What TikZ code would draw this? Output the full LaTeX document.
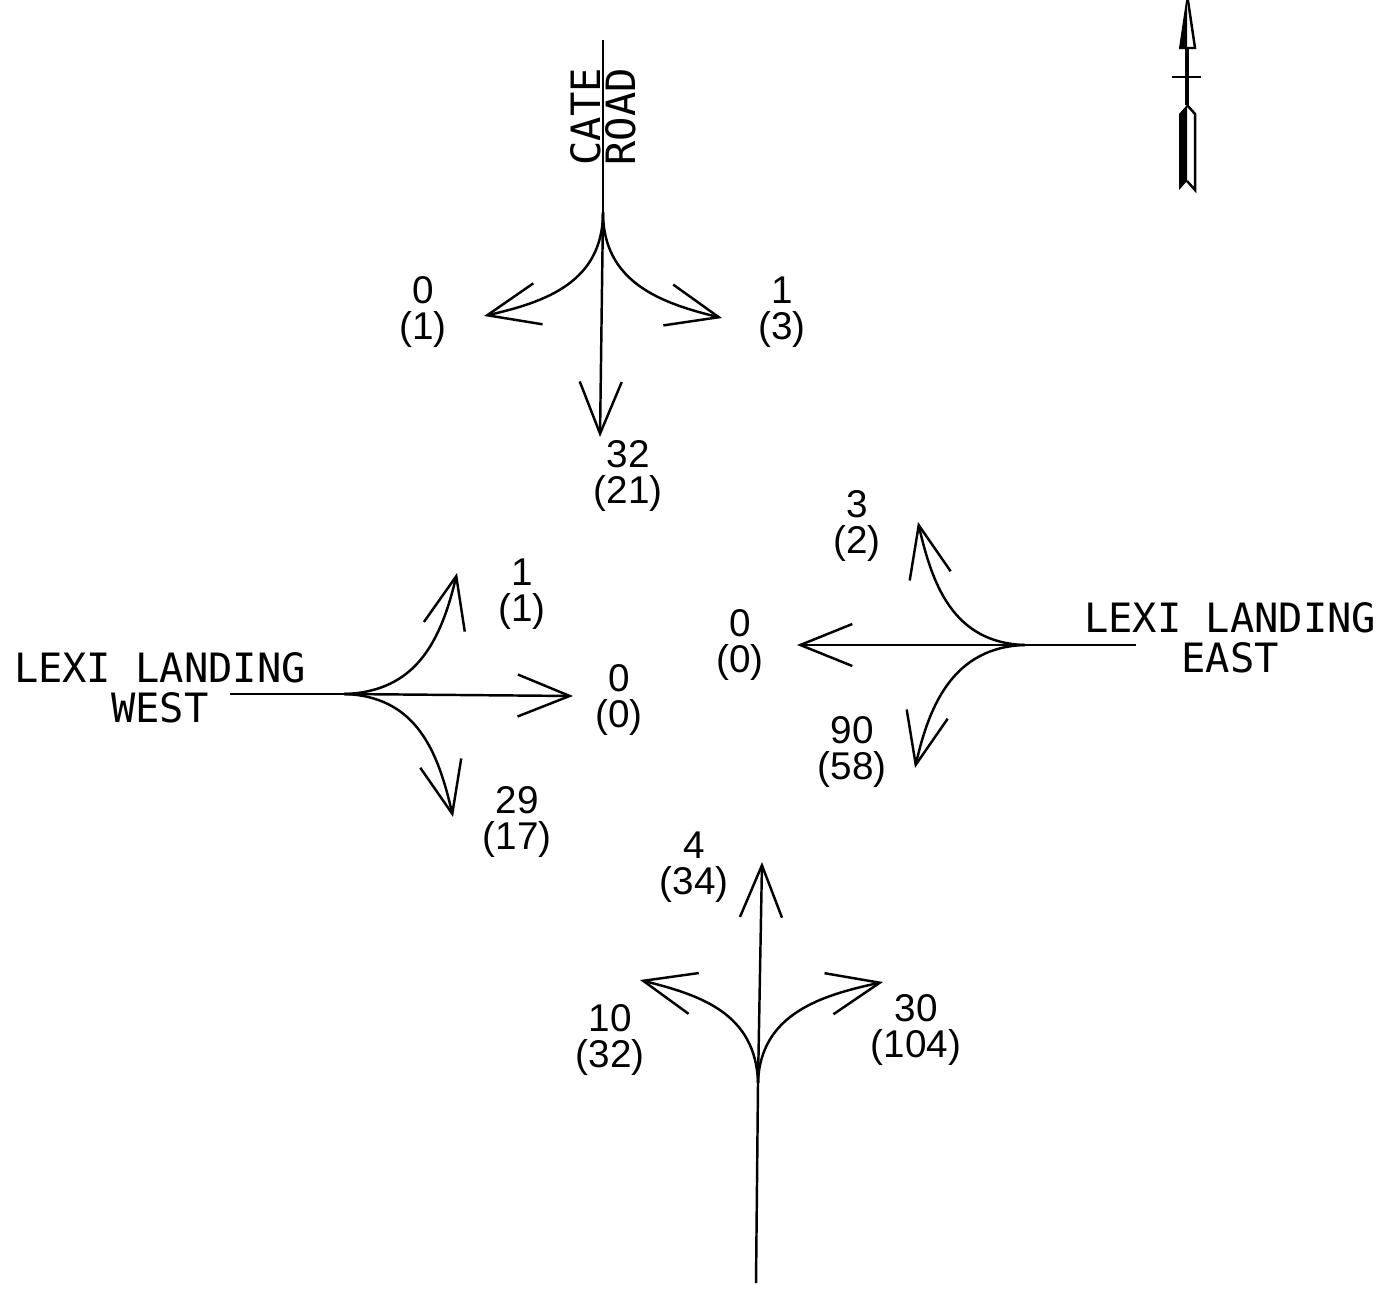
\documentclass[tikz,border=0pt]{standalone}
\usepackage{fontspec}
\newfontfamily\roadfont{DejaVu Sans Mono}
\newfontfamily\countfont{Liberation Sans}
\usetikzlibrary{arrows.meta, positioning}

\begin{document}
\begin{tikzpicture}[
  x=0.1mm, y=-0.1mm,
  every node/.style={inner sep=0pt},
  road/.style={line width=0.7pt},
  move/.style={line width=0.7pt, -{Straight Barb[length=5.2mm, width=4.2mm]}},
  vol/.style={font=\countfont\fontsize{11}{10.2}\selectfont, align=center},
  roadname/.style={font=\roadfont\fontsize{11.5}{11.4}\selectfont, align=center}
]
\useasboundingbox (0,0) rectangle (1388,1290);

%% Nodes
% Cate Road (north)
\coordinate (cateEnd) at (603,40);
\coordinate (cateO)   at (603,212);
\coordinate (cateL)   at (484,316);
\coordinate (cateT)   at (600,437);
\coordinate (cateR)   at (722,318);
% Lexi Landing West
\coordinate (westEnd) at (230,694);
\coordinate (westO)   at (344,694);
\coordinate (westL)   at (457,573);
\coordinate (westT)   at (573,696);
\coordinate (westR)   at (453,817);
% Lexi Landing East
\coordinate (eastEnd) at (1136,645);
\coordinate (eastO)   at (1025,645);
\coordinate (eastR)   at (918,522);
\coordinate (eastT)   at (797,645);
\coordinate (eastL)   at (915,768);
% south leg
\coordinate (southEnd) at (756,1283);
\coordinate (southO)   at (758,1083);
\coordinate (southL)   at (640,980);
\coordinate (southT)   at (762,862);
\coordinate (southR)   at (883,982);

\node[roadname, rotate=90, font=\roadfont\fontsize{11.5}{10}\selectfont] (cate) at (603,117) {CATE\\ROAD};
\node[roadname] (west) at (160,688) {LEXI LANDING\\WEST};
\node[roadname] (east) at (1230,638) {LEXI LANDING\\EAST};

\node[vol] (cateLv) at (423,312) {0\\(1)};
\node[vol] (cateRv) at (782,312) {1\\(3)};
\node[vol] (cateTv) at (628,476) {32\\(21)};
\node[vol] (westLv) at (522,594) {1\\(1)};
\node[vol] (westTv) at (619,700) {0\\(0)};
\node[vol] (westRv) at (517,822) {29\\(17)};
\node[vol] (eastRv) at (857,526) {3\\(2)};
\node[vol] (eastTv) at (740,645) {0\\(0)};
\node[vol] (eastLv) at (852,752) {90\\(58)};
\node[vol] (southTv) at (694,867) {4\\(34)};
\node[vol] (southLv) at (610,1040) {10\\(32)};
\node[vol] (southRv) at (916,1030) {30\\(104)};

%% Arrows
\draw[road] (cateEnd) -- (cateO);
\draw[move] (cateO) -- (cateT);
\draw[move] (cateO) .. controls +(0,70) and +(62,-14) .. (cateL);
\draw[move] (cateO) .. controls +(0,70) and +(-62,-15) .. (cateR);

\draw[road] (westEnd) -- (westO);
\draw[move] (westO) -- (westT);
\draw[move] (westO) .. controls +(72,-2) and +(-16,68) .. (westL);
\draw[move] (westO) .. controls +(72,2) and +(-15,-66) .. (westR);

\draw[road] (eastO) -- (eastEnd);
\draw[move] (eastO) -- (eastT);
\draw[move] (eastO) .. controls +(-72,-2) and +(14,62) .. (eastR);
\draw[move] (eastO) .. controls +(-72,2) and +(14,-62) .. (eastL);

\draw[road] (southEnd) -- (southO);
\draw[move] (southO) -- (southT);
\draw[move] (southO) .. controls +(-2,-70) and +(60,15) .. (southL);
\draw[move] (southO) .. controls +(2,-70) and +(-60,13) .. (southR);

%% North arrow
\fill (1187,-6) -- (1179,48) -- (1187,48) -- cycle;
\draw[line width=0.7pt] (1187,-6) -- (1195,48) -- (1179,48);
\draw[line width=1pt] (1187,48) -- (1187,105);
\draw[line width=0.8pt] (1172,77) -- (1201,77);
\fill (1187,105) -- (1179,114) -- (1179,190) -- (1187,181) -- cycle;
\draw[line width=0.7pt] (1187,105) -- (1195,114) -- (1195,190) -- (1187,181);

\end{tikzpicture}
\end{document}
